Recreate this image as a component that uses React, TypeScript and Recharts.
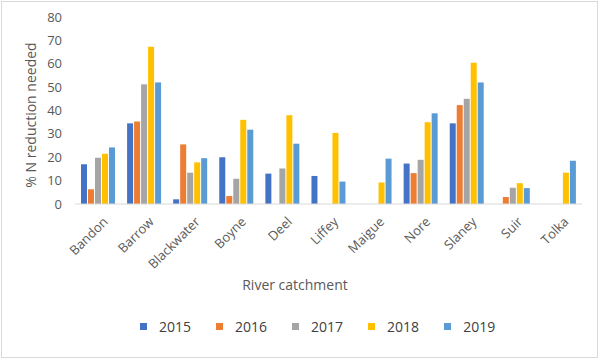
import { BarChart, Bar, XAxis, YAxis, Legend } from 'recharts'

const catchments = ['Bandon', 'Barrow', 'Blackwater', 'Boyne', 'Deel', 'Liffey', 'Maigue', 'Nore', 'Slaney', 'Suir', 'Tolka']
const y2015 = [17, 34.5, 2, 20, 13, 12, null, 17.3, 34.5, null, null]
const y2016 = [6.3, 35.3, 25.5, 3.4, null, null, null, 13.2, 42.3, 3, null]
const y2017 = [19.8, 51.2, 13.4, 10.8, 15.2, null, null, 18.9, 45, 7, null]
const y2018 = [21.5, 67.3, 17.8, 36, 38, 30.4, 9.2, 35, 60.4, 8.9, 13.4]
const y2019 = [24.2, 52, 19.6, 31.8, 25.8, 9.6, 19.4, 38.8, 52, 6.8, 18.5]
const yTicks = [0, 10, 20, 30, 40, 50, 60, 70, 80]

const series = [
  { key: 'y2015', name: '2015', color: '#4472C4' },
  { key: 'y2016', name: '2016', color: '#ED7D31' },
  { key: 'y2017', name: '2017', color: '#A5A5A5' },
  { key: 'y2018', name: '2018', color: '#FFC000' },
  { key: 'y2019', name: '2019', color: '#5B9BD5' },
]

const data = catchments.map((name, i) => ({
  name,
  y2015: y2015[i], y2016: y2016[i], y2017: y2017[i], y2018: y2018[i], y2019: y2019[i],
}))

const FONT = '"Open Sans", sans-serif'
const GREY = '#595959'

function LegendRow() {
  return (
    <div style={{ display: 'flex', justifyContent: 'flex-start', paddingLeft: 140, fontFamily: FONT, fontSize: 14, color: '#404040', height: 20, alignItems: 'center' }}>
      {series.map(s => (
        <div key={s.key} style={{ display: 'flex', alignItems: 'center', marginRight: 25 }}>
          <span style={{ width: 7, height: 7, background: s.color, display: 'inline-block', marginRight: 12 }} />
          <span>{s.name}</span>
        </div>
      ))}
    </div>
  )
}

export default function App() {
  return (
    <div style={{ position: 'absolute', left: 0, top: 0, width: 602, height: 361, background: '#fff' }}>
      <div style={{ position: 'absolute', left: 1, top: 1, width: 595, height: 355, border: '1px solid #d9d9d9', pointerEvents: 'none' }} />
      <BarChart width={602} height={361} data={data} margin={{ top: 17, right: 20, left: 0, bottom: 27 }}
        barSize={6} barGap={1}>
        <XAxis dataKey="name" height={110} interval={0} axisLine={{ stroke: '#d9d9d9' }} tickLine={false}
          tick={{ angle: -45, textAnchor: 'end', fill: GREY, fontSize: 13, fontFamily: FONT, dx: 4, dy: 4 }}
          label={{
            content: () => (
              <text x={295} y={284} textAnchor="middle" dominantBaseline="central" fill={GREY} fontSize={14} fontFamily={FONT}>
                River catchment
              </text>
            ),
          }} />
        <YAxis width={75} domain={[0, 80]} ticks={yTicks} axisLine={false} tickLine={false} tickMargin={7}
          tick={{ fill: GREY, fontSize: 13, fontFamily: FONT }}
          label={{
            content: () => (
              <text transform="translate(30,115) rotate(-90)" textAnchor="middle" dominantBaseline="central" fill={GREY} fontSize={14} fontFamily={FONT}>
                % N reduction needed
              </text>
            ),
          }} />
        <Legend verticalAlign="bottom" content={() => <LegendRow />} wrapperStyle={{ left: 0, width: 602, top: 316 }} />
        {series.map(s => (
          <Bar key={s.key} dataKey={s.key} name={s.name} fill={s.color} isAnimationActive={false} />
        ))}
      </BarChart>
    </div>
  )
}
